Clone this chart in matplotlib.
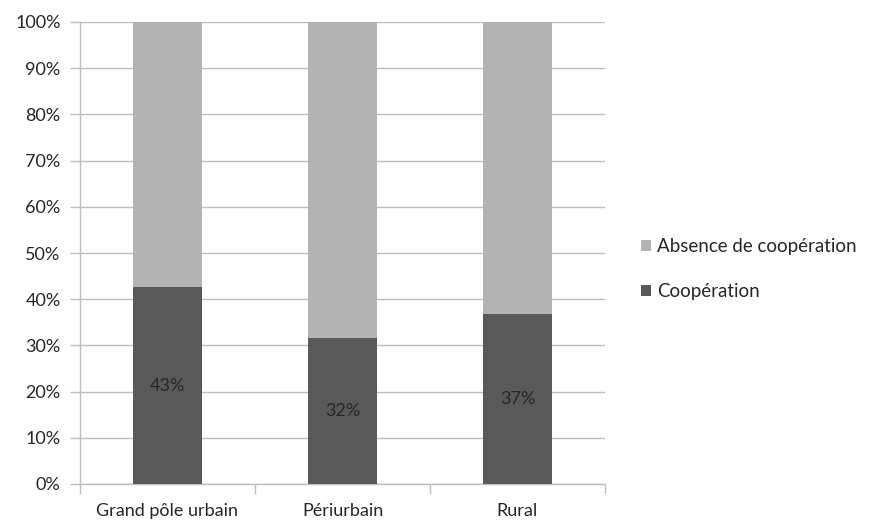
import matplotlib
matplotlib.use("Agg")
import matplotlib.pyplot as plt
import numpy as np

categories = ["Grand pôle urbain", "Périurbain", "Rural"]
cooperation = [42.6, 31.6, 36.8]
absence = [57.4, 68.4, 63.2]
labels = ["43%", "32%", "37%"]

plt.rcParams["font.family"] = ["Lato", "DejaVu Sans"]

dark = "#595959"
light = "#b3b3b3"
grid_col = "#bdbdbd"
txt = "#262626"

fig = plt.figure(figsize=(8.75, 5.23), dpi=100)
ax = fig.add_axes([80 / 875, 39 / 523, 525 / 875, 462 / 523])

x = np.arange(len(categories))
w = 0.39
b1 = ax.bar(x, cooperation, w, color=dark, label="Coopération", zorder=3)
b2 = ax.bar(x, absence, w, bottom=cooperation, color=light,
            label="Absence de coopération", zorder=3)

for xi, v, lab in zip(x, cooperation, labels):
    ax.text(xi, v / 2, lab, ha="center", va="center", fontsize=13, color=txt, zorder=4)

ax.set_xlim(-0.5, len(categories) - 0.5)
ax.set_ylim(0, 100)
ax.set_yticks(range(0, 101, 10))
ax.set_yticklabels([f"{t}%" for t in range(0, 101, 10)])
ax.yaxis.grid(True, color=grid_col, lw=1, zorder=0)

ax.set_xticks(x)
ax.set_xticklabels(categories)
ax.set_xticks(np.arange(-0.5, len(categories), 1), minor=True)
ax.tick_params(axis="x", which="major", length=0, pad=14)
ax.tick_params(axis="x", which="minor", length=7, color=grid_col, width=1)
ax.tick_params(axis="y", length=7, color=grid_col, width=1, pad=7)
ax.tick_params(labelsize=13, labelcolor=txt)

for s in ["top", "right"]:
    ax.spines[s].set_visible(False)
for s in ["left", "bottom"]:
    ax.spines[s].set_color(grid_col)
    ax.spines[s].set_linewidth(1)

handles = [b2, b1]
fig.legend(handles, [h.get_label() for h in handles], loc="center left",
           bbox_to_anchor=(624 / 875, 1 - 269 / 523), frameon=False,
           fontsize=13.5, handlelength=0.55, handleheight=0.55, handletextpad=0.3,
           labelspacing=1.5, labelcolor=txt)

fig.savefig("out.png", dpi=100)
